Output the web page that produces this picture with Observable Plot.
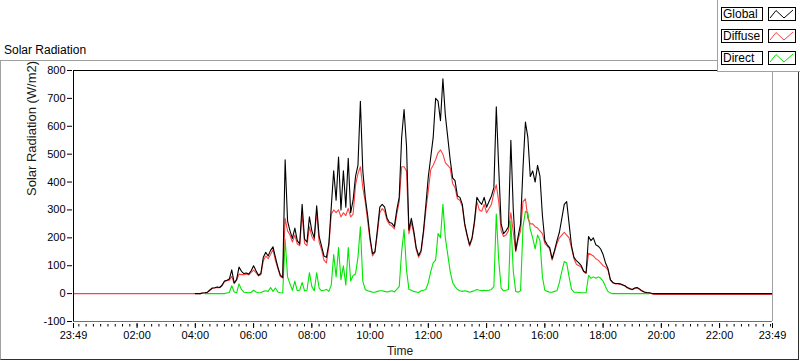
<!DOCTYPE html>
<html>
<head>
<meta charset="utf-8">
<script src="https://cdn.jsdelivr.net/npm/d3@7"></script>
<script src="https://cdn.jsdelivr.net/npm/@observablehq/plot@0.6"></script>
<style>
html, body { margin: 0; padding: 0; background: #fff; }
#wrap { position: relative; width: 800px; height: 361px; overflow: hidden; font-family: "Liberation Sans", Arial, sans-serif; background: #fff; }
#wrap svg { position: absolute; left: 0; top: 0; }
#panel { position: absolute; left: 0; top: 60px; width: 797px; height: 298px; border-left: 1px solid #a0a0a0; border-top: 1px solid #a0a0a0; border-right: 1px solid #303030; border-bottom: 1px solid #303030; pointer-events: none; }
#title { position: absolute; left: 4px; top: 43px; font-size: 12px; line-height: 14px; color: #000; white-space: nowrap; }
#legend { position: absolute; left: 717px; top: 0; width: 90px; height: 71px; background: #fff; border-left: 1px solid #a0a0a0; border-bottom: 1px solid #a0a0a0; }
.lab { position: absolute; left: 3px; width: 39px; height: 12px; padding-left: 1px; border: 1px solid #000; font-size: 12px; line-height: 13px; color: #000; white-space: nowrap; }
.sw { position: absolute; left: 50px; width: 26px; height: 12px; border: 1px solid #000; }
.sw svg { position: absolute; left: 0; top: 0; }
</style>
</head>
<body>
<div id="wrap"></div>
<script>
// ---- data ----
const times = [
  "23:49",
  "04:00","04:05","04:10","04:15","04:20","04:25","04:30","04:35","04:40","04:45","04:50","04:55",
  "05:00","05:05","05:10","05:15","05:20","05:25","05:30","05:35","05:40","05:45","05:50","05:55",
  "06:00","06:05","06:10","06:15","06:20","06:25","06:30","06:35","06:40","06:45","06:50","06:55",
  "07:00","07:05","07:10","07:15","07:20","07:25","07:30","07:35","07:40","07:45","07:50","07:55",
  "08:00","08:05","08:10","08:15","08:20","08:25","08:30","08:35","08:40","08:45","08:50","08:55",
  "09:00","09:05","09:10","09:15","09:20","09:25","09:30","09:35","09:40","09:45","09:50","09:55",
  "10:00","10:05","10:10","10:15","10:20","10:25","10:30","10:35","10:40","10:45","10:50","10:55",
  "11:00","11:05","11:10","11:15","11:20","11:25","11:30","11:35","11:40","11:45","11:50","11:55",
  "12:00","12:05","12:10","12:15","12:20","12:25","12:30","12:35","12:40","12:45","12:50","12:55",
  "13:00","13:05","13:10","13:15","13:20","13:25","13:30","13:35","13:40","13:45","13:50","13:55",
  "14:00","14:05","14:10","14:15","14:20","14:25","14:30","14:35","14:40","14:45","14:50","14:55",
  "15:00","15:05","15:10","15:15","15:20","15:25","15:30","15:35","15:40","15:45","15:50","15:55",
  "16:00","16:05","16:10","16:15","16:20","16:25","16:30","16:35","16:40","16:45","16:50","16:55",
  "17:00","17:05","17:10","17:15","17:20","17:25","17:30","17:35","17:40","17:45","17:50","17:55",
  "18:00","18:05","18:10","18:15","18:20","18:25","18:30","18:35","18:40","18:45","18:50","18:55",
  "19:00","19:05","19:10","19:15","19:20","19:25","19:30","19:35","19:40","19:45","19:50","19:55",
  "20:00",
  "23:49"
];

const globalRad = [
  null,
  0,0,0,2,3,5,13,20,21,24,22,30,
  45,48,52,85,38,50,95,80,72,74,70,82,
  100,82,66,72,130,148,135,155,168,130,95,66,
  58,480,260,225,198,235,190,178,320,195,185,275,
  225,200,315,205,170,135,130,178,310,440,335,490,
  300,440,310,485,290,335,420,460,690,440,345,280,
  200,143,150,228,310,320,310,270,255,252,240,300,
  345,560,660,530,228,270,225,165,137,155,225,320,
  420,490,560,700,690,620,770,640,560,480,415,405,
  350,345,320,250,210,175,200,260,345,330,320,345,
  310,330,350,380,670,450,250,215,225,240,550,300,
  155,205,250,450,615,560,420,440,400,460,420,280,
  190,175,165,125,155,190,220,270,320,330,250,170,
  130,118,110,100,80,75,205,190,200,175,170,160,
  140,110,90,50,40,36,36,35,32,28,22,18,
  15,20,22,17,10,6,4,3,1,0,0,0,
  0,
  0
];

const diffuseRad = [
  0,
  0,0,0,2,3,5,12,19,20,22,21,28,
  43,46,48,62,36,48,70,68,68,70,67,76,
  84,75,63,68,118,135,125,140,158,118,90,62,
  56,270,225,210,185,210,178,172,285,180,172,240,
  205,190,295,185,158,120,110,168,285,300,290,300,
  275,290,280,305,275,285,390,430,455,380,330,260,
  190,135,148,215,290,305,295,262,248,242,232,285,
  330,455,455,440,215,255,215,158,130,148,215,300,
  370,445,460,480,505,515,500,470,460,450,395,380,
  340,335,312,245,205,170,195,250,330,300,295,320,
  290,305,320,360,390,330,225,205,210,225,290,220,
  150,195,225,330,340,270,250,250,240,235,225,215,
  180,170,160,120,150,180,200,210,220,210,200,165,
  125,105,100,95,78,72,145,140,135,125,120,110,
  100,95,85,48,38,35,35,34,30,27,20,16,
  14,18,20,15,9,5,3,2,0,-3,-3,-3,
  -3,
  -3
];

const directRad = [
  null,
  null,null,null,null,0,0,0,0,0,0,0,0,
  0,2,4,28,6,3,35,15,5,4,3,5,
  12,6,3,4,8,10,8,22,8,20,6,3,
  2,195,60,35,12,45,10,12,40,10,12,75,
  25,10,75,20,10,12,15,8,30,140,60,165,
  50,100,30,165,45,65,70,130,240,45,15,10,
  8,5,5,8,10,10,8,6,8,10,6,15,
  25,150,230,85,15,12,8,6,4,10,12,15,
  40,80,110,120,215,200,320,200,140,80,40,25,
  15,10,8,10,8,5,8,10,15,12,10,12,
  10,12,15,25,285,120,20,10,12,15,260,80,
  8,5,10,240,295,290,230,200,160,210,190,60,
  12,8,5,5,8,10,40,80,115,110,60,15,
  5,5,4,3,3,3,65,55,60,55,60,55,
  45,25,8,2,0,0,0,0,0,0,0,0,
  0,0,0,0,0,0,0,0,null,null,null,null,
  null,
  null
];

const yTicks = [-100, 0, 100, 200, 300, 400, 500, 600, 700, 800];
const xTickLabels = ["23:49","02:00","04:00","06:00","08:00","10:00","12:00","14:00","16:00","18:00","20:00","22:00","23:49"];
const seriesNames = ["Global", "Diffuse", "Direct"];
const seriesColors = ["#000000", "#ff4040", "#00e600"];

// ---- helpers ----
// the first "23:49" belongs to the previous day
function toDate(label, prevDay) {
  const [h, m] = label.split(":").map(Number);
  return new Date(Date.UTC(2020, 0, prevDay ? 0 : 1, h, m));
}
const data = times.map((t, i) => ({
  time: toDate(t, i === 0),
  g: globalRad[i],
  d: diffuseRad[i],
  r: directRad[i]
}));
const majorDates = xTickLabels.map((l, i) => toDate(l, i === 0));
const labelByTime = new Map(majorDates.map((d, i) => [+d, xTickLabels[i]]));
const xStart = majorDates[0];
const xEnd = majorDates[majorDates.length - 1];
const minorDates = [];
for (let m = 0; m < 1440; m += 15) minorDates.push(new Date(Date.UTC(2020, 0, 1, 0, m)));

const chart = Plot.plot({
  width: 800,
  height: 361,
  marginLeft: 73,
  marginRight: 28,
  marginTop: 70,
  marginBottom: 40,
  style: { background: "transparent", fontFamily: "Liberation Sans, Arial, sans-serif", fontSize: "11px", color: "#000", overflow: "visible" },
  x: { type: "utc", domain: [xStart, xEnd], axis: null },
  y: { domain: [-100, 800], axis: null },
  marks: [
    Plot.axisY({ ticks: yTicks, tickSize: 5, tickPadding: 2, dx: -1, label: null, tickFormat: d => String(d) }),
    Plot.axisX({ ticks: minorDates, tickSize: 2.5, dy: 3, tickFormat: () => "", label: null }),
    Plot.axisX({ ticks: majorDates, tickSize: 5, dy: 2, tickPadding: 3, tickFormat: d => labelByTime.get(+d), label: null }),
    Plot.line(data, { x: "time", y: "r", stroke: seriesColors[2], strokeWidth: 1.1 }),
    Plot.line(data, { x: "time", y: "d", stroke: seriesColors[1], strokeWidth: 1.1 }),
    Plot.line(data, { x: "time", y: "g", stroke: seriesColors[0], strokeWidth: 1.1 }),
    Plot.ruleY([800], { stroke: "#000" }),
    Plot.ruleX([xStart], { stroke: "#000" }),
    Plot.ruleY([-100], { stroke: "#707070" }),
    Plot.ruleX([xEnd], { stroke: "#a0a0a0" }),
    Plot.text(["Solar Radiation (W/m2)"], { text: d => d, frameAnchor: "left", rotate: -90, dx: -42, fontSize: 13, fill: "#1a1a1a" }),
    Plot.text(["Time"], { text: d => d, frameAnchor: "bottom", dx: -23, dy: 33, fontSize: 12, fill: "#1a1a1a" })
  ]
});

const wrap = document.getElementById("wrap");
wrap.appendChild(chart);

const panel = document.createElement("div");
panel.id = "panel";
wrap.appendChild(panel);

const title = document.createElement("div");
title.id = "title";
title.textContent = "Solar Radiation";
wrap.appendChild(title);

const legend = document.createElement("div");
legend.id = "legend";
const rowTops = [7, 29, 51];
seriesNames.forEach((name, i) => {
  const lab = document.createElement("div");
  lab.className = "lab";
  lab.style.top = rowTops[i] + "px";
  lab.textContent = name;
  legend.appendChild(lab);
  const sw = document.createElement("div");
  sw.className = "sw";
  sw.style.top = rowTops[i] + "px";
  sw.innerHTML = `<svg width="26" height="12"><path d="M1,10 L7,2.5 L15,10 L24,2" fill="none" stroke="${seriesColors[i]}" stroke-width="1"/></svg>`;
  legend.appendChild(sw);
});
wrap.appendChild(legend);
</script>
</body>
</html>
